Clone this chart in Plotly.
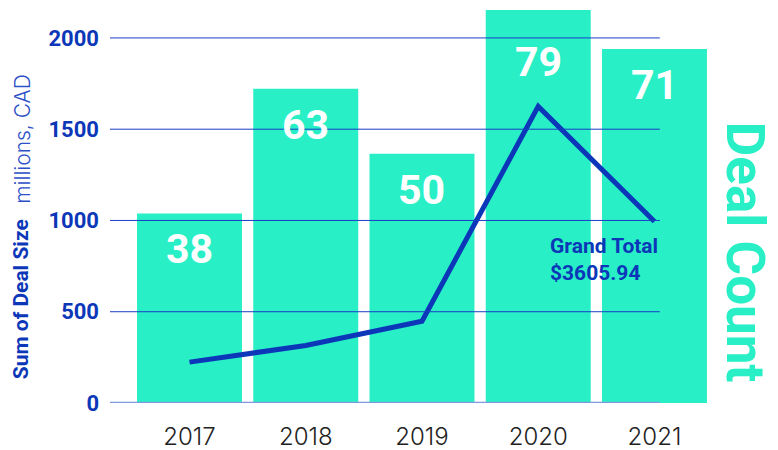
import plotly.graph_objects as go

# data
years = ["2017", "2018", "2019", "2020", "2021"]
deal_count = [38, 63, 50, 79, 71]
deal_size = [224, 315, 448, 1625, 994]  # millions CAD
grand_total = "$3605.94"
y_ticks = [0, 500, 1000, 1500, 2000]

TEAL = "#28efc6"
BLUE = "#0b37b8"
BOLD_FONT = "Roboto, sans-serif"
LIGHT_FONT = "Inter, Roboto, sans-serif"

fig = go.Figure()

# bars on the primary (hidden) axis so the line on y2 is drawn on top
fig.add_trace(go.Bar(
    x=years, y=deal_count, yaxis="y",
    marker=dict(color=TEAL, line=dict(width=0)),
    hoverinfo="skip",
))

fig.add_trace(go.Scatter(
    x=years, y=deal_size, yaxis="y2", mode="lines",
    line=dict(color=BLUE, width=5),
    hovertemplate="%{x}: $%{y}M<extra></extra>",
))

# bar labels sit inside the top of each bar (clamped near the top edge)
# category axes want the serial number of the category for annotations
label_cap = 75.5
for i, c in enumerate(deal_count):
    fig.add_annotation(x=i, y=min(c, label_cap), xref="x", yref="y", yshift=-36,
                       text="<b>" + str(c) + "</b>", showarrow=False,
                       xanchor="center", yanchor="middle",
                       font=dict(family=BOLD_FONT, size=41, color="white"))

# gridlines above the bars, ending short of the last bar
shapes = []
for t in y_ticks[1:]:
    shapes.append(dict(type="line", xref="paper", yref="y2", x0=0, x1=0.921, y0=t, y1=t,
                       line=dict(color="#1a3ec6", width=1), layer="above"))
shapes.append(dict(type="line", xref="paper", yref="y2", x0=0, x1=0.921, y0=0, y1=0,
                   line=dict(color="#8098dc", width=2.5), layer="above"))

fig.add_annotation(xref="paper", yref="paper", x=-0.149, y=0.264,
                   xanchor="center", yanchor="middle",
                   text="<b>Sum of Deal Size</b>", textangle=-90, showarrow=False,
                   font=dict(family=BOLD_FONT, size=21, color=BLUE))
fig.add_annotation(xref="paper", yref="paper", x=-0.146, y=0.672,
                   xanchor="center", yanchor="middle",
                   text="millions, CAD", textangle=-90, showarrow=False,
                   font=dict(family=LIGHT_FONT, size=21, color="#2c50c8", weight=300))
fig.add_annotation(xref="paper", yref="paper", x=1.063, y=0.383,
                   xanchor="center", yanchor="middle",
                   text="<b>Deal Count</b>", textangle=90, showarrow=False,
                   font=dict(family=BOLD_FONT, size=53, color=TEAL))
fig.add_annotation(xref="paper", yref="paper", x=0.734, y=0.435,
                   xanchor="left", yanchor="top", align="left",
                   text="<b>Grand Total<br>" + grand_total + "</b>", showarrow=False,
                   font=dict(family=BOLD_FONT, size=21, color=BLUE))

# the page body adds an 8px offset, so the margins are shifted to compensate
fig.update_layout(
    width=778, height=450,
    margin=dict(l=102, r=79, t=2, b=55),
    plot_bgcolor="white", paper_bgcolor="white",
    showlegend=False, bargap=0.097,
    shapes=shapes,
    xaxis=dict(type="category", range=[-0.684, 4.452], showgrid=False, zeroline=False,
               showline=False, ticks="", ticklabelstandoff=17, automargin=False,
               tickfont=dict(family=LIGHT_FONT, size=24, color="#222222", weight=300)),
    yaxis=dict(range=[0, 78.8], showgrid=False, zeroline=False, showline=False,
               showticklabels=False, ticks="", automargin=False),
    yaxis2=dict(range=[0, 2153], tickvals=y_ticks, overlaying="y", side="left",
                showgrid=False, zeroline=False, showline=False, ticks="",
                ticklabelstandoff=10, automargin=False,
                tickfont=dict(family=BOLD_FONT, size=22, color=BLUE, weight="bold")),
)

fig.write_html("out.html")
